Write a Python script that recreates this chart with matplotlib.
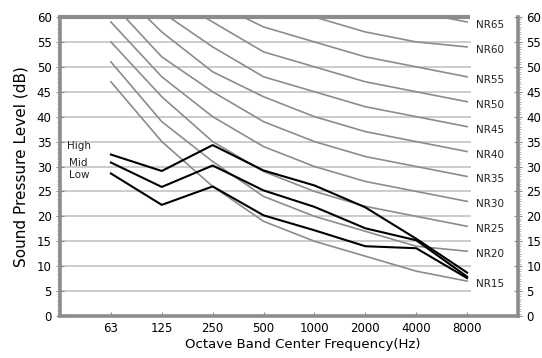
import matplotlib
matplotlib.use("Agg")
import matplotlib.pyplot as plt
import numpy as np
from matplotlib.ticker import MultipleLocator

freqs = ["63", "125", "250", "500", "1000", "2000", "4000", "8000"]

nr_levels = [15, 20, 25, 30, 35, 40, 45, 50, 55, 60, 65]
nr_curves = {
    15: [47, 35, 26, 19, 15, 12, 9, 7],
    20: [51, 39, 31, 24, 20, 17, 14, 13],
    25: [55, 44, 35, 29, 25, 22, 20, 18],
    30: [59, 48, 40, 34, 30, 27, 25, 23],
    35: [63, 52, 45, 39, 35, 32, 30, 28],
    40: [67, 57, 49, 44, 40, 37, 35, 33],
    45: [71, 61, 54, 48, 45, 42, 40, 38],
    50: [75, 65, 59, 53, 50, 47, 45, 43],
    55: [79, 70, 63, 58, 55, 52, 50, 48],
    60: [83, 74, 68, 63, 60, 57, 55, 54],
    65: [87, 78, 72, 68, 65, 62, 61, 59],
}

high = [32.4, 29.1, 34.3, 29.2, 26.2, 21.8, 15.5, 8.7]
mid = [30.8, 25.9, 30.2, 25.2, 21.9, 17.6, 15.2, 7.9]
low = [28.6, 22.3, 26.0, 20.2, 17.2, 14.0, 13.6, 7.6]

fan_labels = ["High", "Mid", "Low"]
fan_label_y = [34.2, 30.8, 28.2]

grey = "#8c8c8c"
grid_grey = "#cccccc"

fig = plt.figure(figsize=(5.42, 3.58), dpi=100)
ax = fig.add_axes([60 / 542, 1 - 316 / 358, 458 / 542, 299 / 358])
x = np.arange(len(freqs))

ax.set_xlim(-1, 8)
ax.set_ylim(0, 60)

# horizontal grid, stops just past the last band
for yv in range(5, 60, 5):
    ax.plot([-1, 7.06], [yv, yv], color=grid_grey, lw=1.4, zorder=1, clip_on=False)
ax.plot([-1.03, 7.06], [60, 60], color=grey, lw=3, zorder=3, clip_on=False, solid_capstyle="butt")

for lvl in nr_levels:
    ax.plot(x, nr_curves[lvl], color=grey, lw=1.2, zorder=2)
    ax.text(7.18, nr_curves[lvl][-1] - 0.6, f"NR{lvl}", fontsize=7.5, va="center", ha="left",
            color="#222222")

for series in (high, mid, low):
    ax.plot(x, series, color="black", lw=1.5, zorder=4)

for lab, yv in zip(fan_labels, fan_label_y):
    ax.text(-0.87 if lab == "High" else -0.82, yv, lab, fontsize=7.5, va="center", ha="left", color="#222222")

ax.set_xticks(x)
ax.set_xticklabels(freqs)
ax.set_yticks(range(0, 61, 5))
ax.yaxis.set_minor_locator(MultipleLocator(0.5))

for side in ("left", "right", "bottom"):
    ax.spines[side].set_color(grey)
    ax.spines[side].set_linewidth(2.6)
ax.spines["top"].set_visible(False)

ax.tick_params(axis="x", direction="in", length=3, color=grey, labelsize=8.5, pad=4)
ax.tick_params(axis="y", which="major", direction="inout", length=6, color=grey, labelsize=8.5,
               right=True, labelright=True, pad=3)
ax.tick_params(axis="y", which="minor", direction="out", length=2, width=0.6, color="#aaaaaa",
               right=True)

ax.set_xlabel("Octave Band Center Frequency(Hz)", fontsize=9.5, labelpad=4)
ax.xaxis.set_label_coords(0.53, -0.075)
ax.set_ylabel("Sound Pressure Level (dB)", fontsize=11, labelpad=6)

fig.savefig("out.png", dpi=100)
